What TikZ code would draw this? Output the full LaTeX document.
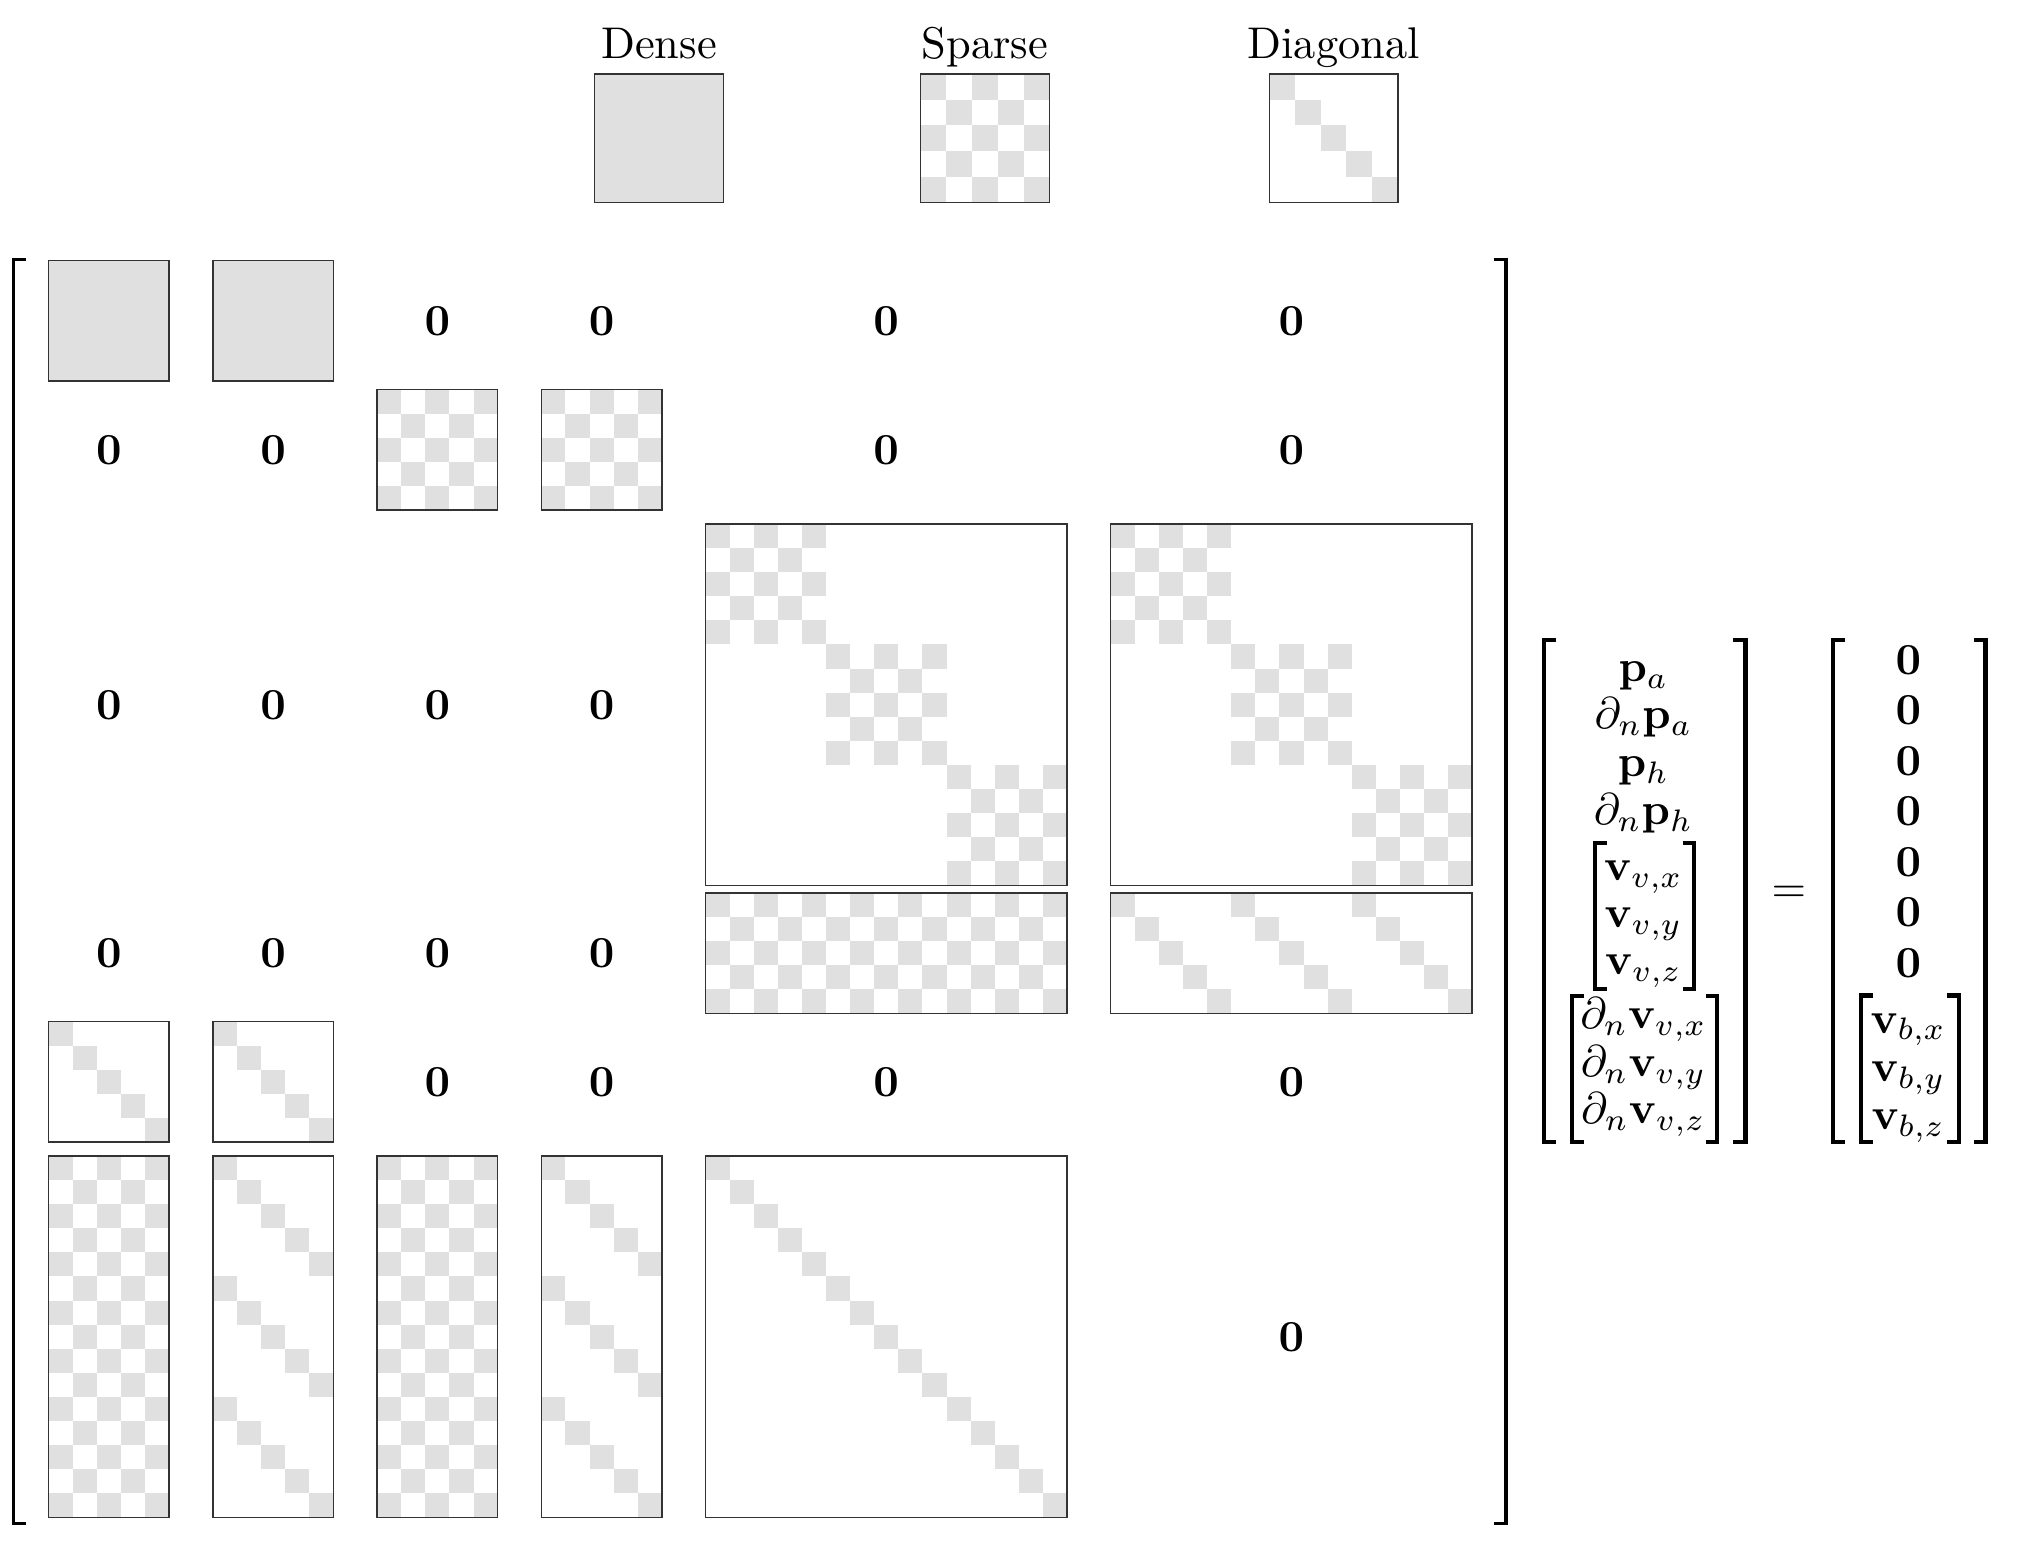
\documentclass[tikz,border=0pt]{standalone}
\usepackage{amsmath}
\definecolor{cellgray}{RGB}{224,224,224}
\tikzset{
  boxline/.style={draw=black!80, line width=0.35pt},
  zero/.style={inner sep=0pt, anchor=center},
  ent/.style={inner sep=0pt, anchor=base},
  bigbrk/.style={line width=0.75pt, line join=miter, line cap=butt},
  vecbrk/.style={line width=0.95pt, line join=miter, line cap=butt},
}
% checkerboard: x0, y0, ncols, nrows, cell
\newcommand\chkcells[5]{%
  \foreach \ii in {1,...,#4}{\foreach \jj in {1,...,#3}{%
    \ifodd\numexpr\ii+\jj\relax\else
      \fill[cellgray] ({#1+(\jj-1)*#5},{#2+(\ii-1)*#5}) rectangle ++(#5,#5);
    \fi}}}
% main diagonal: x0, y0, n, cell
\newcommand\dglcells[4]{%
  \foreach \kk in {1,...,#3}{%
    \fill[cellgray] ({#1+(\kk-1)*#4},{#2+(\kk-1)*#4}) rectangle ++(#4,#4);}}
% frame: x0, y0, w, h
\newcommand\frm[4]{\draw[boxline] (#1,#2) rectangle ++(#3,#4);}
% brackets: style, outer x, top, bottom, serif end x, half width
\newcommand\lbrk[6]{\draw[#1] (#5,{#3+#6}) -- ({#2+#6},{#3+#6}) -- ({#2+#6},{#4-#6}) -- (#5,{#4-#6});}
\newcommand\rbrk[6]{\draw[#1] (#5,{#3+#6}) -- ({#2-#6},{#3+#6}) -- ({#2-#6},{#4-#6}) -- (#5,{#4-#6});}
\begin{document}
\begin{tikzpicture}[x=0.22523pt, y=-0.22523pt]
\useasboundingbox (0,0) rectangle (2018,1546);

% ---------------- legend ----------------
\node[ent] (lgDense) at (659,58.3) {Dense};
\node[ent] (lgSparse) at (985,58.3) {Sparse};
\node[ent] (lgDiag) at (1333.6,58.3) {Diagonal};
\fill[cellgray] (594.7,74) rectangle ++(128.6,128.6);
\frm{594.7}{74}{128.6}{128.6}
\chkcells{920.7}{74}{5}{5}{25.72}
\frm{920.7}{74}{128.6}{128.6}
\dglcells{1269.3}{74}{5}{25.72}
\frm{1269.3}{74}{128.6}{128.6}

% ---------------- row 1 ----------------
\fill[cellgray] (48.7,260.7) rectangle ++(120.5,120.5);
\frm{48.7}{260.7}{120.5}{120.5}
\fill[cellgray] (212.9,260.7) rectangle ++(120.5,120.5);
\frm{212.9}{260.7}{120.5}{120.5}
\node[zero] (z13) at (437.35,320.95) {$\mathbf{0}$};
\node[zero] (z14) at (601.55,320.95) {$\mathbf{0}$};
\node[zero] (z15) at (886.25,320.95) {$\mathbf{0}$};
\node[zero] (z16) at (1291.45,320.95) {$\mathbf{0}$};

% ---------------- row 2 ----------------
\node[zero] (z21) at (108.95,449.95) {$\mathbf{0}$};
\node[zero] (z22) at (273.15,449.95) {$\mathbf{0}$};
\chkcells{377.1}{389.7}{5}{5}{24.1}
\frm{377.1}{389.7}{120.5}{120.5}
\chkcells{541.3}{389.7}{5}{5}{24.1}
\frm{541.3}{389.7}{120.5}{120.5}
\node[zero] (z25) at (886.25,449.95) {$\mathbf{0}$};
\node[zero] (z26) at (1291.45,449.95) {$\mathbf{0}$};

% ---------------- row 3 ----------------
\node[zero] (z31) at (108.95,704.75) {$\mathbf{0}$};
\node[zero] (z32) at (273.15,704.75) {$\mathbf{0}$};
\node[zero] (z33) at (437.35,704.75) {$\mathbf{0}$};
\node[zero] (z34) at (601.55,704.75) {$\mathbf{0}$};
\chkcells{705.5}{524}{5}{5}{24.1}
\chkcells{826}{644.5}{5}{5}{24.1}
\chkcells{946.5}{765}{5}{5}{24.1}
\frm{705.5}{524}{361.5}{361.5}
\chkcells{1110.7}{524}{5}{5}{24.1}
\chkcells{1231.2}{644.5}{5}{5}{24.1}
\chkcells{1351.7}{765}{5}{5}{24.1}
\frm{1110.7}{524}{361.5}{361.5}

% ---------------- row 4 ----------------
\node[zero] (z41) at (108.95,953.25) {$\mathbf{0}$};
\node[zero] (z42) at (273.15,953.25) {$\mathbf{0}$};
\node[zero] (z43) at (437.35,953.25) {$\mathbf{0}$};
\node[zero] (z44) at (601.55,953.25) {$\mathbf{0}$};
\chkcells{705.5}{893}{15}{5}{24.1}
\frm{705.5}{893}{361.5}{120.5}
\dglcells{1110.7}{893}{5}{24.1}
\dglcells{1231.2}{893}{5}{24.1}
\dglcells{1351.7}{893}{5}{24.1}
\frm{1110.7}{893}{361.5}{120.5}

% ---------------- row 5 ----------------
\dglcells{48.7}{1021.6}{5}{24.1}
\frm{48.7}{1021.6}{120.5}{120.5}
\dglcells{212.9}{1021.6}{5}{24.1}
\frm{212.9}{1021.6}{120.5}{120.5}
\node[zero] (z53) at (437.35,1081.85) {$\mathbf{0}$};
\node[zero] (z54) at (601.55,1081.85) {$\mathbf{0}$};
\node[zero] (z55) at (886.25,1081.85) {$\mathbf{0}$};
\node[zero] (z56) at (1291.45,1081.85) {$\mathbf{0}$};

% ---------------- row 6 ----------------
\chkcells{48.7}{1156}{5}{15}{24.1}
\frm{48.7}{1156}{120.5}{361.5}
\dglcells{212.9}{1156}{5}{24.1}
\dglcells{212.9}{1276.5}{5}{24.1}
\dglcells{212.9}{1397}{5}{24.1}
\frm{212.9}{1156}{120.5}{361.5}
\chkcells{377.1}{1156}{5}{15}{24.1}
\frm{377.1}{1156}{120.5}{361.5}
\dglcells{541.3}{1156}{5}{24.1}
\dglcells{541.3}{1276.5}{5}{24.1}
\dglcells{541.3}{1397}{5}{24.1}
\frm{541.3}{1156}{120.5}{361.5}
\dglcells{705.5}{1156}{15}{24.1}
\frm{705.5}{1156}{361.5}{361.5}
\node[zero] (z66) at (1291.45,1336.75) {$\mathbf{0}$};

% big matrix brackets
\lbrk{bigbrk}{11.9}{257.8}{1525}{25.7}{1.665}
\rbrk{bigbrk}{1507.5}{257.8}{1525}{1493.5}{1.665}

% ---------------- unknown vector ----------------
\node[ent] (u1) at (1643.5,681.5) {$\mathbf{p}_a$};
\node[ent] (u2) at (1643.5,729) {$\partial_n\mathbf{p}_a$};
\node[ent] (u3) at (1643.5,777) {$\mathbf{p}_h$};
\node[ent] (u4) at (1643.5,824.5) {$\partial_n\mathbf{p}_h$};
\node[ent] (u5) at (1643.5,880.5) {$\mathbf{v}_{v,x}$};
\node[ent] (u6) at (1643.5,927.5) {$\mathbf{v}_{v,y}$};
\node[ent] (u7) at (1643.5,974.5) {$\mathbf{v}_{v,z}$};
\node[ent] (u8) at (1643.5,1029) {$\partial_n\mathbf{v}_{v,x}$};
\node[ent] (u9) at (1643.5,1076.5) {$\partial_n\mathbf{v}_{v,y}$};
\node[ent] (u10) at (1643.5,1124) {$\partial_n\mathbf{v}_{v,z}$};
\lbrk{vecbrk}{1541.7}{638.2}{1144.5}{1556}{2.11}
\rbrk{vecbrk}{1747.5}{638.2}{1144.5}{1733.3}{2.11}
\lbrk{vecbrk}{1592.7}{841}{991}{1606.9}{2.11}
\rbrk{vecbrk}{1696}{841}{991}{1682.5}{2.11}
\lbrk{vecbrk}{1570}{993.8}{1144.5}{1584.3}{2.11}
\rbrk{vecbrk}{1719.3}{993.8}{1144.5}{1705.5}{2.11}

\node[ent] (eq) at (1789,903) {$=$};

% ---------------- right-hand side ----------------
\node[ent] (r1) at (1908.3,674.3) {$\mathbf{0}$};
\node[ent] (r2) at (1908.3,724.8) {$\mathbf{0}$};
\node[ent] (r3) at (1908.3,775.3) {$\mathbf{0}$};
\node[ent] (r4) at (1908.3,825.8) {$\mathbf{0}$};
\node[ent] (r5) at (1908.3,876.3) {$\mathbf{0}$};
\node[ent] (r6) at (1908.3,926.8) {$\mathbf{0}$};
\node[ent] (r7) at (1908.3,977.3) {$\mathbf{0}$};
\node[ent] (r8) at (1908.3,1033.3) {$\mathbf{v}_{b,x}$};
\node[ent] (r9) at (1908.3,1081.7) {$\mathbf{v}_{b,y}$};
\node[ent] (r10) at (1908.3,1130) {$\mathbf{v}_{b,z}$};
\lbrk{vecbrk}{1831}{638.2}{1144.5}{1845}{2.11}
\rbrk{vecbrk}{1987.7}{638.2}{1144.5}{1974.3}{2.11}
\lbrk{vecbrk}{1859}{993.5}{1144.5}{1873.3}{2.11}
\rbrk{vecbrk}{1961}{993.5}{1144.5}{1946.7}{2.11}
\end{tikzpicture}
\end{document}
